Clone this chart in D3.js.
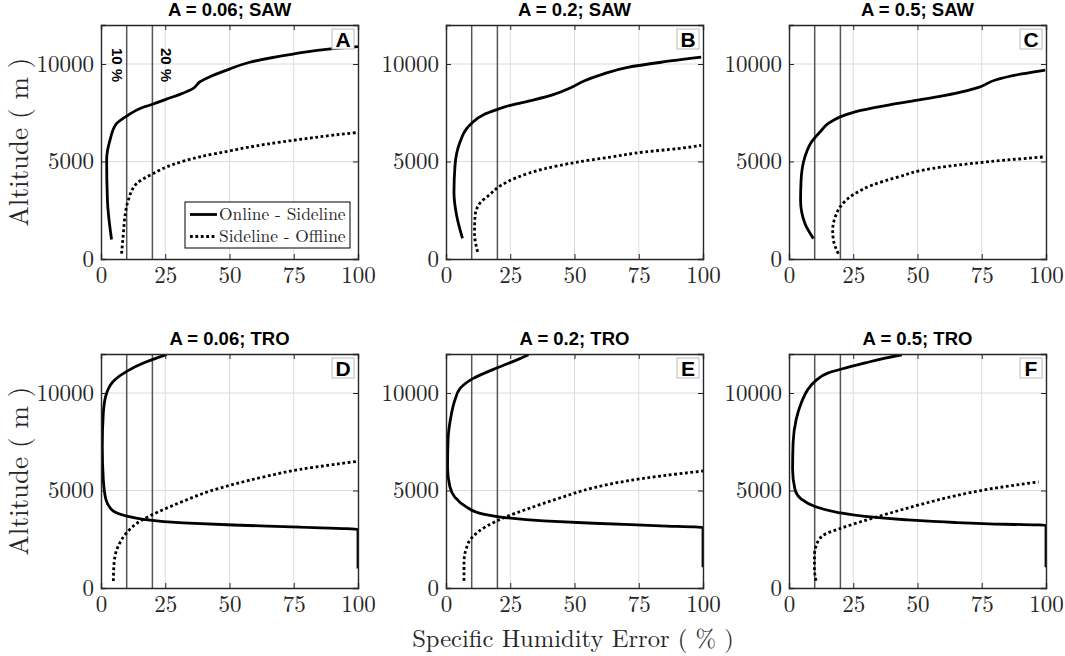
<!DOCTYPE html>
<html>
<head>
<meta charset="utf-8">
<script src="https://cdn.jsdelivr.net/npm/d3@7/dist/d3.min.js"></script>
<style>
  body { margin: 0; background: #fff; }
  svg { display: block; }
</style>
</head>
<body>
<svg id="chart" width="1065" height="656"></svg>
<script>
// ---- data : [error %, altitude m] ----
const titles = ["A = 0.06; SAW", "A = 0.2; SAW", "A = 0.5; SAW",
                "A = 0.06; TRO", "A = 0.2; TRO", "A = 0.5; TRO"];
const letters = ["A", "B", "C", "D", "E", "F"];
const xTicks = [0, 25, 50, 75, 100];
const yTicks = [0, 5000, 10000];
const refLines = [10, 20];
const seriesNames = ["Online - Sideline", "Sideline - Offline"];

const onlineA = [[4.1,1000],[2.5,3000],[2.2,5070],[3.5,6100],[6.1,6950],[10.6,7380],[15.2,7720],[20.3,7950],
  [25.5,8200],[30.7,8440],[35.9,8750],[38.5,9090],[42.4,9350],[50,9740],[57.9,10090],[74.7,10510],[90.3,10790],[100,10890]];
const sidelineA = [[8.0,270],[8.7,1300],[9.3,2160],[10.6,3010],[13.9,3870],[20.3,4380],[28.1,4850],[38.5,5240],
  [51.4,5580],[64.4,5890],[77.3,6130],[90.3,6350],[100,6490]];

const onlineB = [[6.4,1060],[4.2,2190],[3.1,3400],[3.5,4790],[5.5,6010],[8.1,6700],[10.0,6960],[14.6,7400],
  [19.8,7660],[25.0,7880],[34.2,8160],[42.0,8440],[48.5,8780],[53.7,9130],[60.2,9440],[70.7,9830],[83.7,10090],[99.3,10350]];
const sidelineB = [[12.3,365],[11.1,1320],[11.3,2190],[13.3,2880],[17.2,3320],[21.1,3750],[27.6,4180],[38.1,4620],
  [51.1,4970],[64.1,5230],[77.2,5490],[90.2,5660],[99.3,5830]];

const onlineC = [[9.5,1045],[6.2,1815],[4.5,3010],[4.7,4040],[6.2,5240],[8.8,6010],[12.1,6520],[15.3,6950],
  [19.9,7290],[25.7,7550],[38.7,7890],[51.7,8180],[64.7,8490],[73.8,8800],[80.3,9180],[90.6,9490],[99.7,9690]];
const sidelineC = [[19.2,270],[17.3,960],[17.0,1470],[18.0,2160],[19.9,2670],[25.7,3360],[32.2,3780],[42.6,4210],
  [55.6,4640],[71.2,4900],[84.2,5070],[99.7,5240]];

const onlineD = [[100,1000],[100,3000],[77.3,3120],[51.4,3230],[32.0,3340],[16.5,3520],[10.0,3690],[4.8,3940],
  [1.9,4540],[0.9,5560],[0.5,7270],[0.9,8980],[2.2,10000],[5.4,10680],[10.0,11110],[16.5,11540],[21.6,11790],[25.5,11960]];
const sidelineD = [[4.8,360],[5.1,1300],[6.7,2150],[10.0,2830],[15.2,3430],[22.9,3940],[32.0,4450],[42.4,4970],
  [51.4,5310],[64.4,5730],[77.3,6080],[90.3,6330],[100,6500]];

const onlineE = [[100,1060],[100,3100],[83.4,3190],[57.4,3320],[37.9,3440],[23.6,3600],[14.5,3790],[8.1,4140],
  [3.5,4650],[1.5,5200],[0.6,6200],[0.8,7600],[1.8,8700],[3.5,9650],[5.5,10240],[10.6,10750],[19.7,11280],[26.2,11620],[32.1,11960]];
const sidelineE = [[7.0,375],[7.0,1310],[7.8,1990],[10.0,2570],[15.8,3170],[22.3,3590],[31.4,4040],[44.4,4620],
  [57.4,5140],[70.4,5490],[83.4,5740],[100,6000]];

const onlineF = [[100,1060],[100,3220],[84.2,3270],[64.7,3360],[45.2,3500],[29.6,3670],[19.2,3870],[10.1,4180],
  [4.9,4550],[2.3,5070],[1.4,6090],[1.6,7460],[2.8,8650],[4.8,9500],[7.2,10150],[10.1,10600],[15.3,11030],[20.5,11230],
  [29.6,11540],[37.4,11790],[43.9,11960]];
const sidelineF = [[10.5,375],[9.9,970],[9.9,1650],[10.8,2250],[14.0,2760],[19.2,3020],[27.0,3360],[38.7,3820],
  [51.7,4300],[64.7,4730],[77.7,5070],[97.1,5440]];

const onlineSeries = [onlineA, onlineB, onlineC, onlineD, onlineE, onlineF];
const sidelineSeries = [sidelineA, sidelineB, sidelineC, sidelineD, sidelineE, sidelineF];

// ---- layout ----
const colX = [101, 446, 789];
const rowY = [25, 354];
const pw = 257, ph = 234;
const serif = '"Latin Modern Roman", "CMU Serif", "Liberation Serif", serif';
const sans = '"Liberation Sans", Arial, sans-serif';

const svg = d3.select("#chart");

const x = d3.scaleLinear().domain([0, 100]).range([0, pw]);
const y = d3.scaleLinear().domain([0, 12000]).range([ph, 0]);

const line = d3.line()
  .x(d => x(d[0]))
  .y(d => y(d[1]))
  .curve(d3.curveMonotoneY);

titles.forEach((title, i) => {
  let g = svg.append("g")
    .attr("transform", `translate(${colX[i % 3]},${rowY[Math.floor(i / 3)]})`);

  g.append("clipPath").attr("id", "clip" + i)
    .append("rect").attr("width", pw).attr("height", ph);

  // grid
  g.selectAll("line.gx").data(xTicks.slice(1, -1)).enter().append("line")
    .attr("x1", d => x(d)).attr("x2", d => x(d)).attr("y1", 0).attr("y2", ph)
    .attr("stroke", "#dcdcdc").attr("stroke-width", 1);
  g.selectAll("line.gy").data(yTicks.slice(1)).enter().append("line")
    .attr("y1", d => y(d)).attr("y2", d => y(d)).attr("x1", 0).attr("x2", pw)
    .attr("stroke", "#dcdcdc").attr("stroke-width", 1);

  // 10 % and 20 % reference lines
  g.selectAll("line.ref").data(refLines).enter().append("line")
    .attr("x1", d => x(d)).attr("x2", d => x(d)).attr("y1", 0).attr("y2", ph)
    .attr("stroke", "#555").attr("stroke-width", 1.5);

  // curves
  let curves = g.append("g").attr("clip-path", `url(#clip${i})`);
  curves.append("path").datum(sidelineSeries[i])
    .attr("d", line).attr("fill", "none").attr("stroke", "#000")
    .attr("stroke-width", 2.8).attr("stroke-dasharray", "2.8,2.6");
  curves.append("path").datum(onlineSeries[i])
    .attr("d", line).attr("fill", "none").attr("stroke", "#000")
    .attr("stroke-width", 2.8).attr("stroke-linejoin", "round");

  // axes with inward ticks (box style)
  let xAxis = g.append("g").attr("transform", `translate(0,${ph})`)
    .call(d3.axisBottom(x).tickValues(xTicks).tickSize(-5).tickPadding(7).tickFormat(d3.format("d")));
  xAxis.selectAll(".tick text").attr("dy", "0.72em");
  g.append("g")
    .call(d3.axisLeft(y).tickValues(yTicks).tickSize(-5).tickPadding(7).tickFormat(d3.format("d")));
  g.append("g")
    .call(d3.axisTop(x).tickValues(xTicks).tickSize(-5).tickFormat(""));
  g.append("g").attr("transform", `translate(${pw},0)`)
    .call(d3.axisRight(y).tickValues(yTicks).tickSize(-5).tickFormat(""));
  g.selectAll(".domain").attr("stroke", "#262626").attr("stroke-width", 1.4);
  g.selectAll(".tick line").attr("stroke", "#262626");
  g.selectAll(".tick text")
    .attr("font-family", null)
    .style("font-family", serif).style("font-size", "23px").style("fill", "#262626");

  // title
  g.append("text")
    .attr("x", pw / 2).attr("y", -9)
    .attr("text-anchor", "middle")
    .style("font-family", sans).style("font-weight", "bold").style("font-size", "18.5px")
    .text(title);

  // panel letter
  g.append("rect").attr("x", pw - 26).attr("y", 4).attr("width", 22).attr("height", 20)
    .attr("fill", "#fff").attr("stroke", "#bbb").attr("stroke-width", 1);
  g.append("text").attr("x", pw - 15).attr("y", 21.5)
    .attr("text-anchor", "middle")
    .style("font-family", sans).style("font-weight", "bold").style("font-size", "21px")
    .text(letters[i]);

  // y label (first column)
  if (i % 3 === 0) {
    g.append("text")
      .attr("transform", `translate(-73,${ph / 2}) rotate(-90)`)
      .attr("text-anchor", "middle")
      .style("font-family", serif).style("font-size", "27px").style("fill", "#262626")
      .text("Altitude ( m )");
  }

  // annotations and legend in panel A
  if (i === 0) {
    g.selectAll("text.pct").data(refLines).enter().append("text")
      .attr("transform", (d, k) => `translate(${x(d) + (k === 0 ? -9 : 14)},${y(9950)}) rotate(90)`)
      .attr("text-anchor", "middle").attr("dy", "0.35em")
      .style("font-family", sans).style("font-weight", "bold").style("font-size", "15px")
      .text(d => d + " %");

    let leg = g.append("g").attr("transform", `translate(${pw - 173},${ph - 57})`);
    leg.append("rect").attr("width", 165).attr("height", 46)
      .attr("fill", "#fff").attr("stroke", "#000").attr("stroke-width", 1);
    seriesNames.forEach((name, k) => {
      leg.append("line").attr("x1", 5).attr("x2", 32).attr("y1", 12.5 + k * 22).attr("y2", 12.5 + k * 22)
        .attr("stroke", "#000").attr("stroke-width", 2.8)
        .attr("stroke-dasharray", k === 1 ? "2.8,2.6" : null);
      leg.append("text").attr("x", 34).attr("y", 12.5 + k * 22).attr("dy", "0.32em")
        .style("font-family", serif).style("font-size", "17.4px").style("fill", "#262626")
        .text(name);
    });
  }
});

// x axis label
svg.append("text")
  .attr("x", 573).attr("y", 647)
  .attr("text-anchor", "middle")
  .style("font-family", serif).style("font-size", "24.6px").style("fill", "#262626")
  .text("Specific Humidity Error ( % )");
</script>
</body>
</html>
